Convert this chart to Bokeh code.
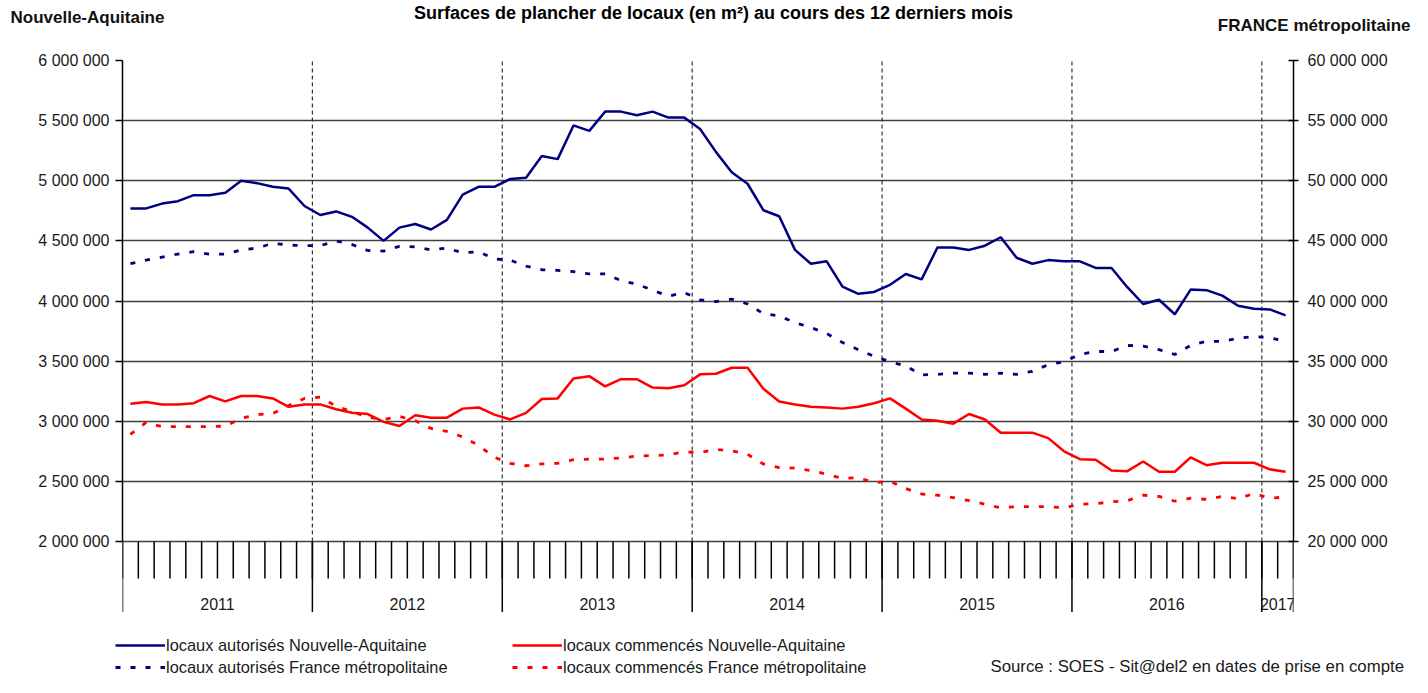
import numpy as np
from bokeh.plotting import figure
from bokeh.layouts import column
from bokeh.models import (Range1d, LinearAxis, FixedTicker, Legend, LegendItem, ColumnDataSource)
from bokeh.core.properties import value
from bokeh.embed import file_html
from bokeh.resources import INLINE

# ---------------- data ----------------
years = ["2011", "2012", "2013", "2014", "2015", "2016", "2017"]
months_per_year = [12, 12, 12, 12, 12, 12, 2]

auth_na = [4770000, 4770000, 4810000, 4830000, 4880000, 4880000, 4900000, 5000000, 4980000, 4950000,
           4935000, 4790000, 4715000, 4745000, 4700000, 4610000, 4500000, 4610000, 4640000, 4595000,
           4675000, 4885000, 4950000, 4950000, 5015000, 5025000, 5205000, 5180000, 5460000, 5415000,
           5575000, 5575000, 5545000, 5575000, 5525000, 5525000, 5430000, 5240000, 5070000, 4975000,
           4755000, 4705000, 4425000, 4310000, 4330000, 4120000, 4060000, 4075000, 4135000, 4225000,
           4180000, 4445000, 4445000, 4425000, 4460000, 4530000, 4360000, 4310000, 4340000, 4330000,
           4330000, 4275000, 4275000, 4115000, 3975000, 4010000, 3890000, 4095000, 4090000, 4045000,
           3960000, 3935000, 3930000, 3880000]

auth_fr = [43100000, 43400000, 43650000, 43900000, 44100000, 43900000, 43900000, 44250000, 44400000, 44800000,
           44650000, 44600000, 44600000, 45000000, 44700000, 44200000, 44150000, 44550000, 44500000, 44250000,
           44400000, 44000000, 44100000, 43500000, 43400000, 42900000, 42600000, 42550000, 42450000, 42250000,
           42250000, 41700000, 41400000, 40900000, 40400000, 40700000, 40100000, 39950000, 40150000, 39750000,
           38950000, 38750000, 38200000, 37800000, 37300000, 36550000, 35950000, 35400000, 34950000, 34600000,
           33850000, 33900000, 34000000, 34000000, 33900000, 34000000, 33900000, 34150000, 34700000, 34950000,
           35550000, 35800000, 35800000, 36300000, 36250000, 35950000, 35550000, 36300000, 36650000, 36650000,
           36900000, 37050000, 36950000, 36650000]

comm_na = [3145000, 3160000, 3140000, 3140000, 3150000, 3210000, 3165000, 3210000, 3210000, 3190000,
           3120000, 3140000, 3140000, 3100000, 3070000, 3060000, 2995000, 2960000, 3050000, 3030000,
           3030000, 3105000, 3115000, 3055000, 3015000, 3070000, 3185000, 3190000, 3355000, 3375000,
           3290000, 3350000, 3350000, 3280000, 3275000, 3300000, 3390000, 3395000, 3445000, 3445000,
           3270000, 3165000, 3140000, 3120000, 3115000, 3105000, 3120000, 3150000, 3190000, 3105000,
           3015000, 3005000, 2980000, 3060000, 3015000, 2905000, 2905000, 2905000, 2860000, 2750000,
           2685000, 2680000, 2590000, 2585000, 2665000, 2580000, 2580000, 2700000, 2635000, 2655000,
           2655000, 2655000, 2600000, 2580000]

comm_fr = [28900000, 29900000, 29550000, 29550000, 29550000, 29550000, 29600000, 30250000, 30550000, 30650000,
           31300000, 31900000, 32000000, 31250000, 30800000, 30350000, 30150000, 30400000, 30050000, 29400000,
           29150000, 28700000, 28000000, 27000000, 26500000, 26300000, 26450000, 26500000, 26800000, 26850000,
           26850000, 26950000, 27100000, 27150000, 27200000, 27450000, 27400000, 27650000, 27550000, 27250000,
           26450000, 26150000, 26100000, 25900000, 25600000, 25250000, 25300000, 24900000, 25000000, 24400000,
           23950000, 23850000, 23650000, 23400000, 23100000, 22800000, 22900000, 22900000, 22900000, 22800000,
           23100000, 23150000, 23300000, 23400000, 23850000, 23750000, 23350000, 23600000, 23500000, 23750000,
           23550000, 24000000, 23600000, 23700000]

left_ticks = [2000000, 2500000, 3000000, 3500000, 4000000, 4500000, 5000000, 5500000, 6000000]
left_tick_labels = ["2 000 000", "2 500 000", "3 000 000", "3 500 000", "4 000 000",
                    "4 500 000", "5 000 000", "5 500 000", "6 000 000"]
right_ticks = [20000000, 25000000, 30000000, 35000000, 40000000, 45000000, 50000000, 55000000, 60000000]
right_tick_labels = ["20 000 000", "25 000 000", "30 000 000", "35 000 000", "40 000 000",
                     "45 000 000", "50 000 000", "55 000 000", "60 000 000"]

title_text = "Surfaces de plancher de locaux (en m²) au cours des 12 derniers mois"
left_title = "Nouvelle-Aquitaine"
right_title = "FRANCE métropolitaine"
source_text = "Source : SOES - Sit@del2 en dates de prise en compte"
labels = ["locaux autorisés Nouvelle-Aquitaine", "locaux autorisés France métropolitaine",
          "locaux commencés Nouvelle-Aquitaine", "locaux commencés France métropolitaine"]

# ---------------- layout constants (pixels) ----------------
FONT = "Liberation Sans"
BLUE = "#000080"
RED = "#ff0000"
W = 1412
HDR_H, MAIN_H, FTR_H = 48, 564, 65
PLOT_H = 481          # height of the 2M..6M band
MINOR_LEN, MAJOR_LEN = 37, 71   # tick lengths below the value band
YEAR_LABEL_OFF = 62

# ---------------- derived ----------------
n = len(auth_na)
x = np.arange(n) + 0.5
year_bounds = np.concatenate([[0], np.cumsum(months_per_year)]).astype(float)
year_centers = (year_bounds[:-1] + year_bounds[1:]) / 2
month_bounds = np.arange(n + 1, dtype=float)

l0, l1 = left_ticks[0], left_ticks[-1]
r0, r1 = right_ticks[0], right_ticks[-1]
lpp = (l1 - l0) / PLOT_H          # value per pixel (left)
rpp = (r1 - r0) / PLOT_H          # value per pixel (right)

# ---------------- header ----------------
hdr = figure(width=W, height=HDR_H, output_backend="svg", toolbar_location=None,
             x_range=Range1d(0, W), y_range=Range1d(0, HDR_H),
             x_axis_location=None, y_axis_location=None, min_border=0, frame_align=False)
hdr.outline_line_color = None
hdr.grid.visible = False
hdr.text(x=[713], y=[HDR_H - 12], text=[title_text], text_align="center", text_baseline="middle",
         text_font=value(FONT), text_font_size=value("18px"), text_font_style="bold", text_color="black")
hdr.text(x=[10], y=[HDR_H - 17], text=[left_title], text_align="left", text_baseline="middle",
         text_font=value(FONT), text_font_size=value("17px"), text_font_style="bold", text_color="#111111")
hdr.text(x=[1410], y=[HDR_H - 25], text=[right_title], text_align="right", text_baseline="middle",
         text_font=value(FONT), text_font_size=value("17px"), text_font_style="bold", text_color="#111111")

# ---------------- main chart ----------------
p = figure(width=W, height=MAIN_H, output_backend="svg", toolbar_location=None,
           x_range=Range1d(0, n), y_range=Range1d(l0 - MAJOR_LEN * lpp, l1),
           x_axis_location=None, frame_align=False,
           min_border_left=122, min_border_right=W - 1293, min_border_top=12, min_border_bottom=0)
p.extra_y_ranges = {"fr": Range1d(r0 - MAJOR_LEN * rpp, r1)}
p.outline_line_color = None

ya = p.yaxis[0]
ya.bounds = (l0, l1)
ya.ticker = FixedTicker(ticks=left_ticks)
ya.major_label_overrides = dict(zip(left_ticks, left_tick_labels))
ya.major_tick_out = 7
ya.major_tick_in = 0
ya.minor_tick_line_color = None
ya.major_label_standoff = 6
ya.axis_line_color = "black"
ya.axis_line_width = 1.5
ya.major_tick_line_width = 1.5
ya.major_label_text_font = FONT
ya.major_label_text_font_size = "16px"
ya.major_label_text_color = "#1a1a1a"

ra = LinearAxis(y_range_name="fr", ticker=FixedTicker(ticks=right_ticks), bounds=(r0, r1))
ra.major_label_overrides = dict(zip(right_ticks, right_tick_labels))
ra.major_tick_out = 5
ra.major_tick_in = 5
ra.minor_tick_line_color = None
ra.major_label_standoff = 9
ra.axis_line_color = "black"
ra.axis_line_width = 1.5
ra.major_tick_line_width = 1.5
ra.major_label_text_font = FONT
ra.major_label_text_font_size = "16px"
ra.major_label_text_color = "#1a1a1a"
p.add_layout(ra, "right")

p.xgrid.visible = False
p.ygrid.ticker = FixedTicker(ticks=left_ticks)
p.ygrid.grid_line_color = "#404040"
p.ygrid.grid_line_width = 1.5

# dashed year separators inside the value band
inner = year_bounds[1:-1]
p.segment(x0=inner, y0=[l0] * len(inner), x1=inner, y1=[l1] * len(inner),
          line_color="#333333", line_dash="4 3", line_width=1.2)
# month ticks and year separators of the category axis
p.segment(x0=month_bounds, y0=[l0] * len(month_bounds), x1=month_bounds,
          y1=[l0 - MINOR_LEN * lpp] * len(month_bounds), line_color="black", line_width=1.5)
p.segment(x0=year_bounds, y0=[l0] * len(year_bounds), x1=year_bounds,
          y1=[l0 - MAJOR_LEN * lpp] * len(year_bounds), line_color="black", line_width=1.5)
p.text(x=year_centers, y=[l0 - YEAR_LABEL_OFF * lpp] * len(years), text=years,
       text_align="center", text_baseline="middle", text_font=value(FONT),
       text_font_size=value("16px"), text_color="#1a1a1a")

# series
p.line(x, auth_na, line_color=BLUE, line_width=2.5)
p.line(x, auth_fr, y_range_name="fr", line_color=BLUE, line_width=2.8, line_dash="5 10")
p.line(x, comm_na, line_color=RED, line_width=2.5)
p.line(x, comm_fr, y_range_name="fr", line_color=RED, line_width=2.8, line_dash="5 10")

# ---------------- footer (legend + source) ----------------
ftr = figure(width=W, height=FTR_H, output_backend="svg", toolbar_location=None,
             x_range=Range1d(0, W), y_range=Range1d(0, FTR_H),
             x_axis_location=None, y_axis_location=None, min_border=0, frame_align=False)
ftr.outline_line_color = None
ftr.grid.visible = False
# legend proxies: lines lying outside the visible ranges, used only for the legend glyphs
proxy = ColumnDataSource(dict(x=[-100, -90], y=[-100, -100]))
g1 = ftr.line("x", "y", source=proxy, line_color=BLUE, line_width=2.5)
g2 = ftr.line("x", "y", source=proxy, line_color=BLUE, line_width=2.8, line_dash="5 10")
g3 = ftr.line("x", "y", source=proxy, line_color=RED, line_width=2.5)
g4 = ftr.line("x", "y", source=proxy, line_color=RED, line_width=2.8, line_dash="5 10")

leg_kw = dict(glyph_width=50, glyph_height=20, label_height=20, spacing=2, padding=0, margin=0,
              border_line_color=None, background_fill_alpha=0, label_standoff=1,
              label_text_font=FONT, label_text_font_size="16.4px", label_text_color="#1a1a1a")
ftr.add_layout(Legend(items=[LegendItem(label=labels[0], renderers=[g1]),
                             LegendItem(label=labels[1], renderers=[g2])],
                      location=(115, 0), **leg_kw))
ftr.add_layout(Legend(items=[LegendItem(label=labels[2], renderers=[g3]),
                             LegendItem(label=labels[3], renderers=[g4])],
                      location=(512, 0), **leg_kw))
ftr.text(x=[990], y=[FTR_H - 54], text=[source_text], text_align="left", text_baseline="middle",
         text_font=value(FONT), text_font_size=value("16.8px"), text_color="#1a1a1a")

layout = column(hdr, p, ftr, spacing=0)
open("out.html", "w").write(file_html(layout, INLINE))
